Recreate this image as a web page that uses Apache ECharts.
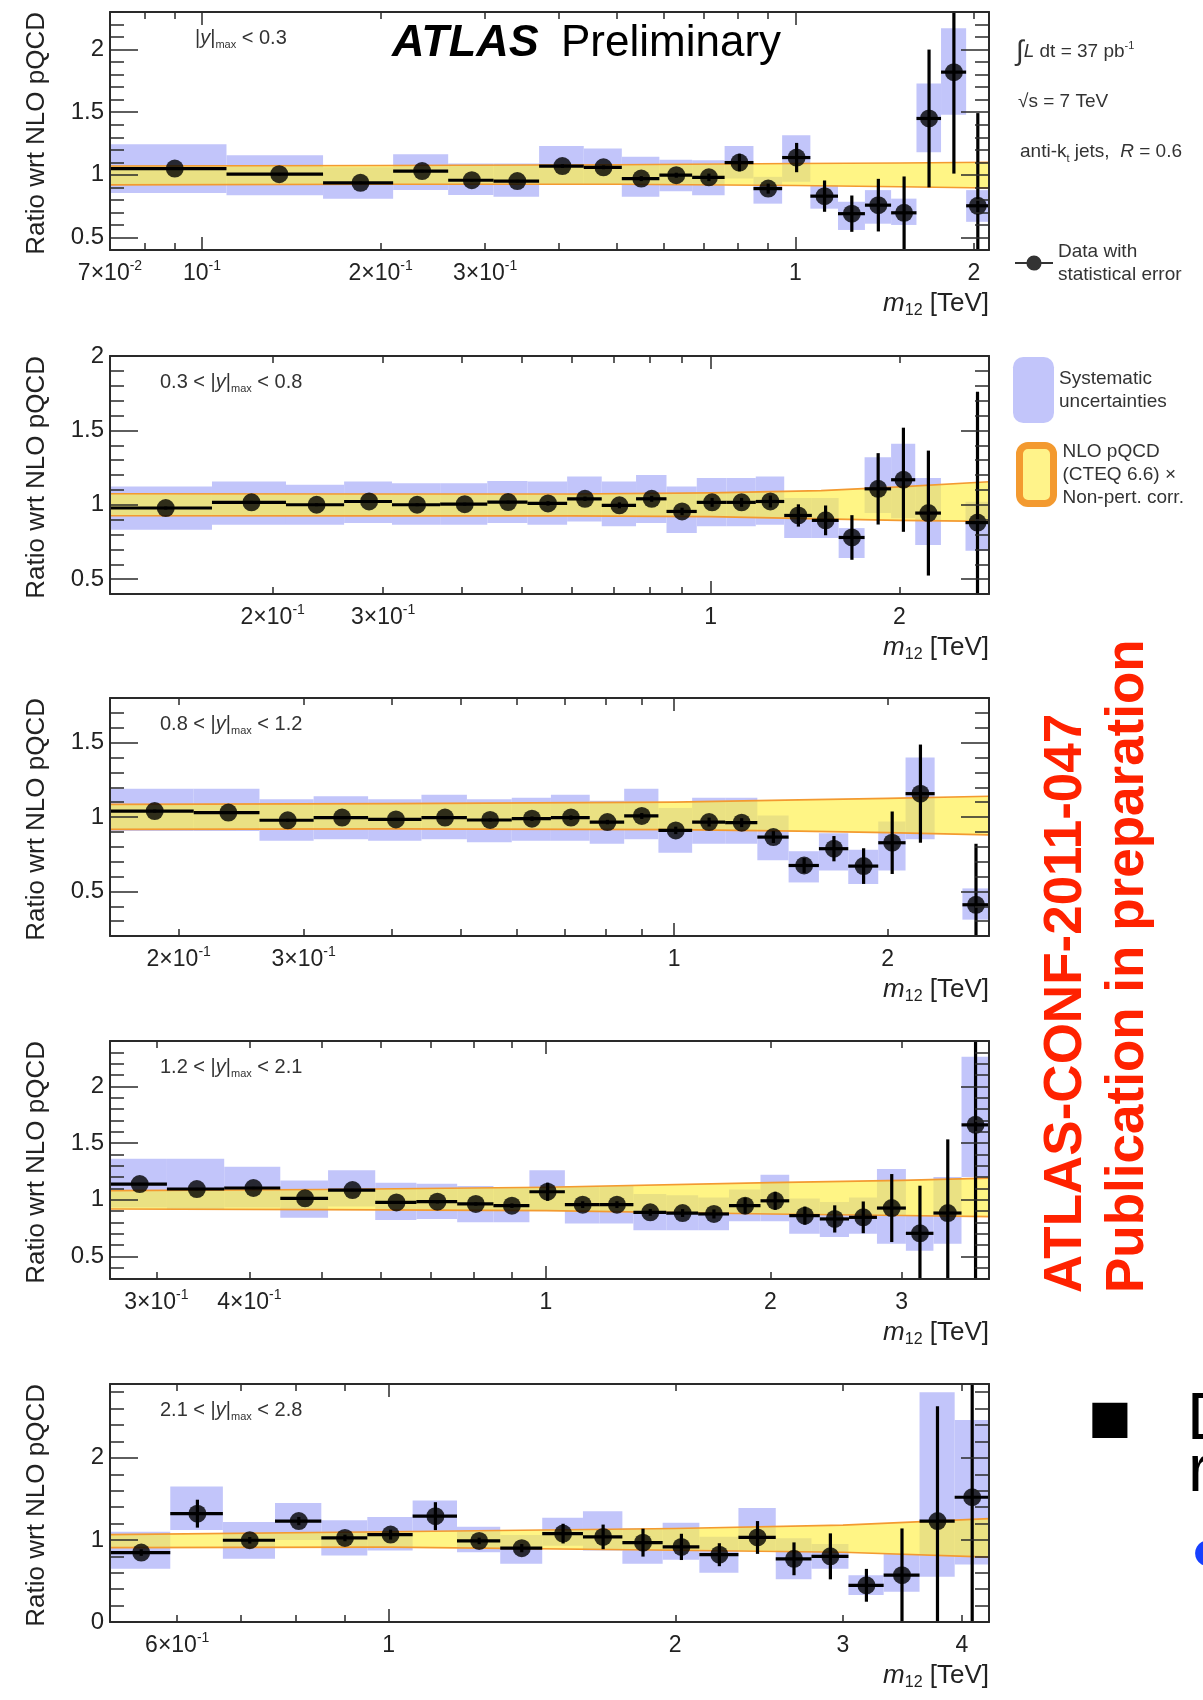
<!DOCTYPE html>
<html><head><meta charset="utf-8">
<script src="https://cdn.jsdelivr.net/npm/echarts@6/dist/echarts.min.js"></script>
<style>html,body{margin:0;padding:0;background:#fff;overflow:hidden}#c{width:1203px;height:1700px}</style>
</head><body><div id="c"></div>
<script>
// ================= DATA =================
// Panel 1 : |y|max < 0.3
const p1BinLo = [0.07,0.11,0.16,0.21,0.26,0.31,0.37,0.44,0.51,0.59,0.67,0.76,0.85,0.95,1.06,1.18,1.31,1.45,1.60,1.76,1.94];
const p1BinHi = [0.11,0.16,0.21,0.26,0.31,0.37,0.44,0.51,0.59,0.67,0.76,0.85,0.95,1.06,1.18,1.31,1.45,1.60,1.76,1.94,2.12];
const p1Ratio = [1.05,1.005,0.936,1.03,0.957,0.95,1.07,1.06,0.97,0.997,0.98,1.098,0.89,1.138,0.83,0.69,0.758,0.697,1.45,1.82,0.753];
const p1Stat  = [0.01,0.01,0.01,0.01,0.01,0.01,0.015,0.015,0.02,0.02,0.03,0.07,0.04,0.117,0.125,0.145,0.21,0.29,0.55,0.81,0.74];
const p1SystLo = [0.856,0.838,0.81,0.878,0.84,0.825,0.918,0.918,0.825,0.87,0.838,0.97,0.77,0.944,0.73,0.56,0.61,0.6,1.18,1.48,0.625];
const p1SystHi = [1.245,1.157,1.06,1.165,1.09,1.09,1.23,1.21,1.144,1.12,1.117,1.23,0.984,1.316,0.918,0.785,0.878,0.81,1.73,2.17,0.878];
const p1BandM  = [0.07,0.2,0.5,1.0,1.5,2.12];
const p1BandLo = [0.92,0.925,0.925,0.915,0.905,0.895];
const p1BandHi = [1.07,1.075,1.08,1.09,1.095,1.10];

// Panel 2 : 0.3 < |y|max < 0.8
const p2BinLo = [0.11,0.16,0.21,0.26,0.31,0.37,0.44,0.51,0.59,0.67,0.76,0.85,0.95,1.06,1.18,1.31,1.45,1.60,1.76,1.94,2.12,2.55];
const p2BinHi = [0.16,0.21,0.26,0.31,0.37,0.44,0.51,0.59,0.67,0.76,0.85,0.95,1.06,1.18,1.31,1.45,1.60,1.76,1.94,2.12,2.33,2.78];
const p2Ratio = [0.978,1.016,1.0,1.022,1.0,1.004,1.018,1.009,1.04,0.996,1.04,0.955,1.016,1.016,1.022,0.928,0.895,0.78,1.107,1.168,0.944,0.88];
const p2Stat  = [0.01,0.01,0.01,0.01,0.01,0.01,0.01,0.015,0.015,0.02,0.02,0.025,0.03,0.03,0.04,0.075,0.1,0.15,0.24,0.35,0.42,0.88];
const p2SystLo = [0.832,0.866,0.866,0.877,0.866,0.866,0.877,0.866,0.888,0.855,0.877,0.81,0.855,0.855,0.866,0.776,0.776,0.642,0.944,0.91,0.73,0.69];
const p2SystHi = [1.123,1.157,1.134,1.157,1.145,1.145,1.16,1.157,1.19,1.157,1.2,1.123,1.18,1.18,1.19,1.045,1.045,0.843,1.32,1.41,1.18,1.02];
const p2BandM  = [0.11,0.3,0.6,1.0,1.5,2.0,2.78];
const p2BandLo = [0.926,0.925,0.925,0.92,0.905,0.895,0.888];
const p2BandHi = [1.074,1.072,1.072,1.08,1.095,1.12,1.155];

// Panel 3 : 0.8 < |y|max < 1.2
const p3BinLo = [0.16,0.21,0.26,0.31,0.37,0.44,0.51,0.59,0.67,0.76,0.85,0.95,1.06,1.18,1.31,1.45,1.60,1.76,1.94,2.12,2.55];
const p3BinHi = [0.21,0.26,0.31,0.37,0.44,0.51,0.59,0.67,0.76,0.85,0.95,1.06,1.18,1.31,1.45,1.60,1.76,1.94,2.12,2.33,2.78];
const p3Ratio = [1.04,1.03,0.978,0.996,0.984,0.996,0.98,0.989,0.996,0.966,1.007,0.91,0.966,0.962,0.865,0.674,0.787,0.67,0.827,1.157,0.41];
const p3Stat  = [0.01,0.01,0.01,0.01,0.01,0.01,0.01,0.015,0.015,0.015,0.02,0.025,0.03,0.03,0.04,0.05,0.085,0.12,0.21,0.33,0.41];
const p3SystLo = [0.906,0.906,0.84,0.85,0.84,0.85,0.83,0.84,0.84,0.82,0.85,0.76,0.82,0.82,0.71,0.56,0.64,0.55,0.64,0.85,0.31];
const p3SystHi = [1.19,1.19,1.12,1.14,1.12,1.15,1.12,1.13,1.15,1.11,1.19,1.06,1.13,1.13,1.01,0.77,0.89,0.78,0.97,1.4,0.52];
const p3BandM  = [0.16,0.4,1.0,1.5,2.0,2.78];
const p3BandLo = [0.917,0.92,0.915,0.905,0.895,0.88];
const p3BandHi = [1.085,1.09,1.10,1.115,1.125,1.14];

// Panel 4 : 1.2 < |y|max < 2.1
const p4BinLo = [0.26,0.31,0.37,0.44,0.51,0.59,0.67,0.76,0.85,0.95,1.06,1.18,1.31,1.45,1.60,1.76,1.94,2.12,2.33,2.55,2.78,3.04,3.31,3.61];
const p4BinHi = [0.31,0.37,0.44,0.51,0.59,0.67,0.76,0.85,0.95,1.06,1.18,1.31,1.45,1.60,1.76,1.94,2.12,2.33,2.55,2.78,3.04,3.31,3.61,3.93];
const p4Ratio = [1.138,1.094,1.103,1.012,1.085,0.976,0.982,0.962,0.947,1.07,0.956,0.956,0.888,0.882,0.874,0.947,0.99,0.859,0.83,0.844,0.926,0.703,0.882,1.66];
const p4Stat  = [0.01,0.01,0.01,0.01,0.01,0.01,0.015,0.015,0.02,0.08,0.03,0.03,0.03,0.035,0.04,0.07,0.08,0.08,0.12,0.14,0.3,0.42,0.65,1.5];
const p4SystLo = [0.93,0.91,0.93,0.84,0.94,0.82,0.83,0.80,0.80,0.90,0.79,0.79,0.73,0.73,0.73,0.81,0.81,0.70,0.67,0.70,0.61,0.55,0.61,1.2];
const p4SystHi = [1.36,1.36,1.29,1.17,1.26,1.15,1.14,1.12,1.11,1.26,1.12,1.12,1.05,1.04,1.02,1.09,1.22,1.01,0.98,1.02,1.27,0.86,1.2,2.26];
const p4BandM  = [0.26,0.5,1.0,2.0,3.0,3.93];
const p4BandLo = [0.918,0.912,0.903,0.874,0.86,0.85];
const p4BandHi = [1.08,1.09,1.11,1.15,1.17,1.19];

// Panel 5 : 2.1 < |y|max < 2.8
const p5BinLo = [0.51,0.59,0.67,0.76,0.85,0.95,1.06,1.18,1.31,1.45,1.60,1.76,1.94,2.12,2.33,2.55,2.78,3.04,3.31,3.61,3.93];
const p5BinHi = [0.59,0.67,0.76,0.85,0.95,1.06,1.18,1.31,1.45,1.60,1.76,1.94,2.12,2.33,2.55,2.78,3.04,3.31,3.61,3.93,4.27];
const p5Ratio = [0.846,1.32,0.996,1.23,1.024,1.065,1.29,0.988,0.90,1.077,1.037,0.967,0.915,0.82,1.03,0.77,0.80,0.447,0.57,1.23,1.52];
const p5Stat  = [0.04,0.17,0.04,0.05,0.04,0.06,0.17,0.04,0.05,0.12,0.15,0.17,0.16,0.14,0.2,0.2,0.28,0.2,0.57,1.4,1.6];
const p5SystLo = [0.65,1.12,0.77,1.0,0.81,0.87,1.1,0.85,0.71,0.93,0.87,0.71,0.76,0.6,0.87,0.52,0.65,0.33,0.37,0.55,0.7];
const p5SystHi = [1.1,1.65,1.22,1.45,1.24,1.28,1.48,1.16,1.06,1.27,1.35,1.14,1.21,1.04,1.39,1.02,0.95,0.57,0.83,2.8,2.46];
const p5BandM  = [0.51,1.0,2.0,3.0,4.27];
const p5BandLo = [0.906,0.912,0.874,0.85,0.79];
const p5BandHi = [1.065,1.1,1.14,1.18,1.26];

// Axis ranges and tick labels
const xRanges = [[0.07,2.12],[0.11,2.78],[0.16,2.78],[0.26,3.93],[0.51,4.27]];
const yRanges = [[0.4,2.3],[0.4,2.0],[0.2,1.8],[0.3,2.4],[0,2.9]];
const yMinorSteps = [0.1,0.1,0.1,0.1,0.2];
const yLabelVals = [[0.5,1,1.5,2],[0.5,1,1.5,2],[0.5,1,1.5],[0.5,1,1.5,2],[0,1,2]];
const xLabelVals = [[0.07,0.1,0.2,0.3,1,2],[0.2,0.3,1,2],[0.2,0.3,1,2],[0.3,0.4,1,2,3],[0.6,1,2,3,4]];
const xLabelText = [
  ['{b|7×10}{s|-2}','{b|10}{s|-1}','{b|2×10}{s|-1}','{b|3×10}{s|-1}','{b|1}','{b|2}'],
  ['{b|2×10}{s|-1}','{b|3×10}{s|-1}','{b|1}','{b|2}'],
  ['{b|2×10}{s|-1}','{b|3×10}{s|-1}','{b|1}','{b|2}'],
  ['{b|3×10}{s|-1}','{b|4×10}{s|-1}','{b|1}','{b|2}','{b|3}'],
  ['{b|6×10}{s|-1}','{b|1}','{b|2}','{b|3}','{b|4}']
];
const rapLow  = [null,'0.3','0.8','1.2','2.1'];
const rapHigh = ['0.3','0.8','1.2','2.1','2.8'];

// ================= LAYOUT / STYLE =================
const FONT = "'Liberation Sans', Arial, Helvetica, sans-serif";
const AXC = '#2a2a2a';
const SYST = '#c2c5fa';
const YEL = 'rgba(255,240,70,0.66)';
const ORG = '#f39a30';
const gridTops = [12,356,698,1041,1384];
const GL = 110, GW = 879, GH = 238;

const panels = [
  {binLo:p1BinLo,binHi:p1BinHi,ratio:p1Ratio,stat:p1Stat,sLo:p1SystLo,sHi:p1SystHi,bM:p1BandM,bLo:p1BandLo,bHi:p1BandHi},
  {binLo:p2BinLo,binHi:p2BinHi,ratio:p2Ratio,stat:p2Stat,sLo:p2SystLo,sHi:p2SystHi,bM:p2BandM,bLo:p2BandLo,bHi:p2BandHi},
  {binLo:p3BinLo,binHi:p3BinHi,ratio:p3Ratio,stat:p3Stat,sLo:p3SystLo,sHi:p3SystHi,bM:p3BandM,bLo:p3BandLo,bHi:p3BandHi},
  {binLo:p4BinLo,binHi:p4BinHi,ratio:p4Ratio,stat:p4Stat,sLo:p4SystLo,sHi:p4SystHi,bM:p4BandM,bLo:p4BandLo,bHi:p4BandHi},
  {binLo:p5BinLo,binHi:p5BinHi,ratio:p5Ratio,stat:p5Stat,sLo:p5SystLo,sHi:p5SystHi,bM:p5BandM,bLo:p5BandLo,bHi:p5BandHi}
];

function logTicks(mn, mx) {
  const out = [];
  for (let e = -3; e <= 1; e++) for (let k = 1; k <= 9; k++) {
    const v = +(k * Math.pow(10, e)).toPrecision(6);
    if (v >= mn - 1e-9 && v <= mx + 1e-9) out.push(v);
  }
  return out;
}
function decTicks(mn, mx) {
  const out = [];
  for (let e = -3; e <= 1; e++) { const v = +Math.pow(10, e).toPrecision(6); if (v >= mn - 1e-9 && v <= mx + 1e-9) out.push(v); }
  return out;
}
function linTicks(mn, mx, st) {
  const out = [];
  for (let i = 0; i < 200; i++) { const v = +(mn + i * st).toFixed(4); if (v > mx + 1e-9) break; out.push(v); }
  return out;
}
const clamp = (v, r) => Math.max(r[0], Math.min(r[1], v));

const grids = [], xAxes = [], yAxes = [], series = [], graphics = [];
const tickLine = {color: AXC, width: 1.5};

panels.forEach((P, p) => {
  const top = gridTops[p];
  const xr = xRanges[p], yr = yRanges[p];
  grids.push({left: GL, top: top, width: GW, height: GH, containLabel: false, outerBoundsMode: 'none'});
  const allT = logTicks(xr[0], xr[1]), decT = decTicks(xr[0], xr[1]);
  const lv = xLabelVals[p], lt = xLabelText[p];
  const xfmt = (v) => {
    let bi = -1, bd = 1e9;
    lv.forEach((q, i) => { const d = Math.abs(Math.log10(v) - Math.log10(q)); if (d < bd) { bd = d; bi = i; } });
    return bd < 0.01 ? lt[bi] : '';
  };
  const xrich = {
    b: {fontSize: 23, lineHeight: 30, verticalAlign: 'middle', fontFamily: FONT, color: '#222'},
    s: {fontSize: 14, lineHeight: 14, verticalAlign: 'top', fontFamily: FONT, color: '#222'}
  };
  ['bottom','top'].forEach(pos => {
    [false, true].forEach(long => {
      xAxes.push({
        type: 'log', logBase: 10, gridIndex: p, min: xr[0], max: xr[1], position: pos, z: 10,
        axisLine: {show: !long, onZero: false, lineStyle: {color: AXC, width: 2}},
        axisTick: {show: true, inside: true, length: long ? 13 : 7, customValues: long ? decT : allT, lineStyle: tickLine},
        axisLabel: (pos === 'bottom' && !long) ? {show: true, customValues: lv, formatter: xfmt, rich: xrich, margin: 9, hideOverlap: false} : {show: false},
        splitLine: {show: false}, minorTick: {show: false}, minorSplitLine: {show: false}
      });
    });
  });
  const minorT = linTicks(yr[0], yr[1], yMinorSteps[p]);
  ['left','right'].forEach(pos => {
    [false, true].forEach(major => {
      yAxes.push({
        type: 'value', gridIndex: p, min: yr[0], max: yr[1], position: pos, z: 10,
        axisLine: {show: !major, onZero: false, lineStyle: {color: AXC, width: 2}},
        axisTick: {show: true, inside: true, length: major ? 28 : 14, customValues: major ? yLabelVals[p] : minorT, lineStyle: tickLine},
        axisLabel: (pos === 'left' && !major) ? {show: true, customValues: yLabelVals[p], formatter: v => String(+(+v).toFixed(2)), fontSize: 24, fontFamily: FONT, color: '#222', margin: 6} : {show: false},
        splitLine: {show: false}
      });
    });
  });
  const xi = 4 * p, yi = 4 * p;

  // systematic boxes
  series.push({
    type: 'custom', name: 'Systematic\nuncertainties', xAxisIndex: xi, yAxisIndex: yi, z: 1, silent: true,
    itemStyle: {color: SYST},
    data: P.binLo.map((lo, i) => [lo, P.binHi[i], P.sLo[i], P.sHi[i]]),
    encode: {x: [0, 1], y: [2, 3]},
    renderItem: (params, api) => {
      const a = api.coord([api.value(0), clamp(api.value(3), yr)]);
      const b = api.coord([api.value(1), clamp(api.value(2), yr)]);
      return {type: 'rect', shape: {x: a[0], y: a[1], width: b[0] - a[0], height: b[1] - a[1]}, style: {fill: SYST}};
    }
  });
  // NLO band
  const band = P.bM.map((m, i) => [m, P.bLo[i], P.bHi[i]]);
  series.push({
    type: 'custom', name: 'NLO pQCD\n(CTEQ 6.6) ×\nNon-pert. corr.', xAxisIndex: xi, yAxisIndex: yi, z: 2, silent: true,
    itemStyle: {color: '#fff38a'},
    data: band, encode: {x: 0, y: [1, 2]},
    renderItem: (params, api) => {
      if (params.dataIndex !== 0) return null;
      const up = band.map(d => api.coord([d[0], d[2]]));
      const dn = band.map(d => api.coord([d[0], d[1]]));
      return {type: 'group', children: [
        {type: 'polygon', shape: {points: up.concat(dn.slice().reverse())}, style: {fill: YEL}},
        {type: 'polyline', shape: {points: up}, style: {stroke: ORG, lineWidth: 1.6, fill: null}},
        {type: 'polyline', shape: {points: dn}, style: {stroke: ORG, lineWidth: 1.6, fill: null}}
      ]};
    }
  });
  // error bars
  series.push({
    type: 'custom', xAxisIndex: xi, yAxisIndex: yi, z: 3, silent: true,
    data: P.binLo.map((lo, i) => [(lo + P.binHi[i]) / 2, P.ratio[i], P.stat[i], lo, P.binHi[i]]),
    encode: {x: [0, 3, 4], y: 1},
    renderItem: (params, api) => {
      const c = api.value(0), y = api.value(1), e = api.value(2);
      const t = api.coord([c, clamp(y + e, yr)]), b = api.coord([c, clamp(y - e, yr)]);
      const l = api.coord([api.value(3), y]), r = api.coord([api.value(4), y]);
      return {type: 'group', children: [
        {type: 'line', shape: {x1: t[0], y1: t[1], x2: b[0], y2: b[1]}, style: {stroke: '#000', lineWidth: 3.2}},
        {type: 'line', shape: {x1: l[0], y1: l[1], x2: r[0], y2: r[1]}, style: {stroke: '#000', lineWidth: 3.2}}
      ]};
    }
  });
  // data points
  series.push({
    type: 'scatter', name: 'Data with\nstatistical error', xAxisIndex: xi, yAxisIndex: yi, z: 4, silent: true,
    symbol: 'circle', symbolSize: 18, itemStyle: {color: '#000'},
    data: P.binLo.map((lo, i) => [(lo + P.binHi[i]) / 2, P.ratio[i]])
  });

  // y-axis title
  graphics.push({type: 'text', x: 37, y: top, rotation: Math.PI / 2,
    style: {text: 'Ratio wrt NLO pQCD', fontSize: 26, fontFamily: FONT, fill: '#222', align: 'right', verticalAlign: 'middle'}});
  // x-axis title
  graphics.push({type: 'text', x: GL + GW, y: top + GH + 54,
    style: {text: '{i|m}{s|12}{n| [TeV]}', align: 'right', verticalAlign: 'middle',
      rich: {i: {fontSize: 26, fontStyle: 'italic', fontFamily: FONT, fill: '#222', lineHeight: 30, verticalAlign: 'middle'},
             s: {fontSize: 16, fontFamily: FONT, fill: '#222', lineHeight: 15, verticalAlign: 'bottom'},
             n: {fontSize: 26, fontFamily: FONT, fill: '#222', lineHeight: 30, verticalAlign: 'middle'}}}});
  // rapidity label
  const rl = (rapLow[p] ? '{n|' + rapLow[p] + ' < |}' : '{n||}') + '{i|y}{n||}{s|max}{n| < ' + rapHigh[p] + '}';
  graphics.push({type: 'text', x: p === 0 ? 195 : 160, y: top + 26,
    style: {text: rl, align: 'left', verticalAlign: 'middle',
      rich: {n: {fontSize: 20, fontFamily: FONT, fill: '#333', lineHeight: 24, verticalAlign: 'middle'},
             i: {fontSize: 20, fontStyle: 'italic', fontFamily: FONT, fill: '#333', lineHeight: 24, verticalAlign: 'middle'},
             s: {fontSize: 11, fontFamily: FONT, fill: '#333', lineHeight: 11, verticalAlign: 'bottom'}}}});
});

// ATLAS label and run info
graphics.push({type: 'text', x: 392, y: 44, style: {text: 'ATLAS', fontSize: 45, fontWeight: 'bold', fontStyle: 'italic', fontFamily: FONT, fill: '#000', align: 'left', verticalAlign: 'middle'}});
graphics.push({type: 'text', x: 561, y: 44, style: {text: 'Preliminary', fontSize: 44, fontFamily: FONT, fill: '#000', align: 'left', verticalAlign: 'middle'}});
graphics.push({type: 'text', x: 1016, y: 52, style: {text: '{int|∫}{i|L}{n| dt = 37 pb}{s|-1}', align: 'left', verticalAlign: 'middle',
  rich: {int: {fontSize: 28, fontFamily: FONT, fill: '#333', lineHeight: 32, verticalAlign: 'middle'},
         i: {fontSize: 19, fontStyle: 'italic', fontFamily: FONT, fill: '#333', lineHeight: 22, verticalAlign: 'middle'},
         n: {fontSize: 19, fontFamily: FONT, fill: '#333', lineHeight: 22, verticalAlign: 'middle'},
         s: {fontSize: 11, fontFamily: FONT, fill: '#333', lineHeight: 11, verticalAlign: 'top', padding: [4, 0, 0, 0]}}}});
graphics.push({type: 'text', x: 1018, y: 102, style: {text: '√s = 7 TeV', fontSize: 19, fontFamily: FONT, fill: '#333', align: 'left', verticalAlign: 'middle'}});
graphics.push({type: 'text', x: 1020, y: 152, style: {text: '{n|anti-k}{s|t}{n| jets,  }{i|R}{n| = 0.6}', align: 'left', verticalAlign: 'middle',
  rich: {n: {fontSize: 19, fontFamily: FONT, fill: '#333', lineHeight: 24, verticalAlign: 'middle'},
         i: {fontSize: 19, fontStyle: 'italic', fontFamily: FONT, fill: '#333', lineHeight: 24, verticalAlign: 'middle'},
         s: {fontSize: 11, fontFamily: FONT, fill: '#333', lineHeight: 11, verticalAlign: 'bottom'}}}});

// red vertical note
graphics.push({type: 'text', x: 1066, y: 1293, rotation: Math.PI / 2, style: {text: 'ATLAS-CONF-2011-047', fontSize: 53, fontWeight: 'bold', fontFamily: FONT, fill: '#ff2200', align: 'left', verticalAlign: 'middle'}});
graphics.push({type: 'text', x: 1128, y: 1293, rotation: Math.PI / 2, style: {text: 'Publication in preparation', fontSize: 53, fontWeight: 'bold', fontFamily: FONT, fill: '#ff2200', align: 'left', verticalAlign: 'middle'}});

// cropped slide text at the lower right
graphics.push({type: 'text', x: 1110, y: 1420, style: {text: '■', fontSize: 46, fontFamily: "'DejaVu Sans', sans-serif", fill: '#000', align: 'center', verticalAlign: 'middle'}});
graphics.push({type: 'text', x: 1187, y: 1421, style: {text: 'D', fontSize: 66, fontFamily: FONT, fill: '#000', align: 'left', verticalAlign: 'middle'}});
graphics.push({type: 'text', x: 1188, y: 1473, style: {text: 'r', fontSize: 66, fontFamily: FONT, fill: '#000', align: 'left', verticalAlign: 'middle'}});
graphics.push({type: 'text', x: 1208, y: 1553, style: {text: '●', fontSize: 34, fontFamily: "'DejaVu Sans', sans-serif", fill: '#1740ff', align: 'center', verticalAlign: 'middle'}});

const legTS = {fontSize: 19, lineHeight: 23, color: '#333', fontFamily: FONT};
const option = {
  animation: false,
  backgroundColor: '#fff',
  grid: grids, xAxis: xAxes, yAxis: yAxes, series: series,
  legend: [
    {left: 1015, top: 240, padding: 0, selectedMode: false, itemWidth: 38, itemHeight: 18, textStyle: legTS,
     data: [{name: 'Data with\nstatistical error', icon: 'path://M0,8L40,8L40,10L0,10Z M20,1A8,8,0,1,1,19.99,1Z', itemStyle: {color: '#000'}}]},
    {left: 1013, top: 357, padding: 0, selectedMode: false, itemWidth: 41, itemHeight: 66, textStyle: legTS,
     data: [{name: 'Systematic\nuncertainties', icon: 'roundRect', itemStyle: {color: SYST}}]},
    {left: 1016, top: 440, padding: 0, selectedMode: false, itemWidth: 34, itemHeight: 58, textStyle: Object.assign({}, legTS, {padding: [0, 0, 0, 4]}),
     data: [{name: 'NLO pQCD\n(CTEQ 6.6) ×\nNon-pert. corr.', icon: 'roundRect', itemStyle: {color: '#fff38a', borderColor: ORG, borderWidth: 7}}]}
  ],
  graphic: graphics
};
const chart = echarts.init(document.getElementById('c'), null, {renderer: 'canvas'});
chart.setOption(option);
</script>
</body></html>
